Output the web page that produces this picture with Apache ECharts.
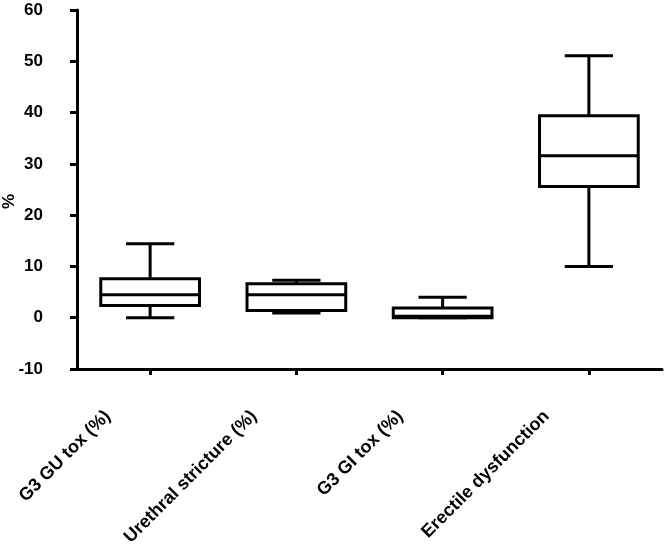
<!DOCTYPE html>
<html>
<head>
<meta charset="utf-8">
<script src="https://cdn.jsdelivr.net/npm/echarts@6/dist/echarts.min.js"></script>
<style>html,body{margin:0;padding:0;background:#fff}#c{width:664px;height:544px}</style>
</head>
<body>
<div id="c"></div>
<script>
var categories = ['G3 GU tox (%)', 'Urethral stricture (%)', 'G3 GI tox (%)', 'Erectile dysfunction'];
var minVals    = [0.0, 0.9, 0.0, 10.0];
var q1Vals     = [2.4, 1.4, 0.0, 25.6];
var medianVals = [4.5, 4.5, 0.3, 31.6];
var q3Vals     = [7.6, 6.6, 1.9, 39.4];
var maxVals    = [14.4, 7.3, 4.0, 51.1];
var yTicks = { min: -10, max: 60, interval: 10 };

var data = categories.map(function (c, i) {
  return [i, minVals[i], q1Vals[i], medianVals[i], q3Vals[i], maxVals[i]];
});

var FONT = 'Liberation Sans, Arial, sans-serif';
var chart = echarts.init(document.getElementById('c'), null, { renderer: 'canvas' });

function renderItem(params, api) {
  var i = api.value(0);
  var pMin = api.coord([i, api.value(1)]);
  var pQ1 = api.coord([i, api.value(2)]);
  var pMed = api.coord([i, api.value(3)]);
  var pQ3 = api.coord([i, api.value(4)]);
  var pMax = api.coord([i, api.value(5)]);
  var band = api.size([1, 0])[0];
  var bw = band * 0.675;
  var cw = band * 0.33;
  var x = pMed[0];
  var st = { stroke: '#000', lineWidth: 3, fill: null };
  return {
    type: 'group',
    children: [
      { type: 'line', shape: { x1: x, y1: pQ3[1], x2: x, y2: pMax[1] }, style: st },
      { type: 'line', shape: { x1: x, y1: pQ1[1], x2: x, y2: pMin[1] }, style: st },
      { type: 'line', shape: { x1: x - cw / 2, y1: pMax[1], x2: x + cw / 2, y2: pMax[1] }, style: st },
      { type: 'line', shape: { x1: x - cw / 2, y1: pMin[1], x2: x + cw / 2, y2: pMin[1] }, style: st },
      { type: 'rect', shape: { x: x - bw / 2, y: pQ3[1], width: bw, height: pQ1[1] - pQ3[1] },
        style: { stroke: '#000', lineWidth: 3, fill: '#fff' } },
      { type: 'line', shape: { x1: x - bw / 2, y1: pMed[1], x2: x + bw / 2, y2: pMed[1] }, style: st }
    ]
  };
}

chart.setOption({
  animation: false,
  backgroundColor: '#fff',
  grid: { left: 77, right: 2, top: 10, bottom: 175, containLabel: false, outerBoundsMode: 'none' },
  xAxis: {
    type: 'category',
    data: categories,
    boundaryGap: true,
    axisLine: { onZero: false, lineStyle: { color: '#000', width: 3 } },
    axisTick: { show: true, alignWithLabel: true, length: 6, lineStyle: { color: '#000', width: 3 } },
    axisLabel: {
      rotate: 45, interval: 0, margin: 2, color: '#000',
      fontFamily: FONT, fontWeight: 'bold', fontSize: 18,
      padding: [0, 60, 0, 0]
    },
    splitLine: { show: false }
  },
  yAxis: {
    type: 'value',
    min: yTicks.min, max: yTicks.max, interval: yTicks.interval,
    name: '%',
    nameLocation: 'middle',
    nameRotate: 90,
    nameGap: 59,
    nameMoveOverlap: false,
    nameTextStyle: { color: '#000', fontFamily: FONT, fontWeight: 'bold', fontSize: 17, padding: [0, 24, 0, 0] },
    axisLine: { show: true, lineStyle: { color: '#000', width: 3 } },
    axisTick: { show: true, length: 7, lineStyle: { color: '#000', width: 3 } },
    axisLabel: { margin: 34, color: '#000', fontFamily: FONT, fontWeight: 'bold', fontSize: 17 },
    splitLine: { show: false }
  },
  series: [{
    type: 'custom',
    renderItem: renderItem,
    encode: { x: 0, y: [1, 2, 3, 4, 5] },
    data: data
  }]
});
</script>
</body>
</html>
